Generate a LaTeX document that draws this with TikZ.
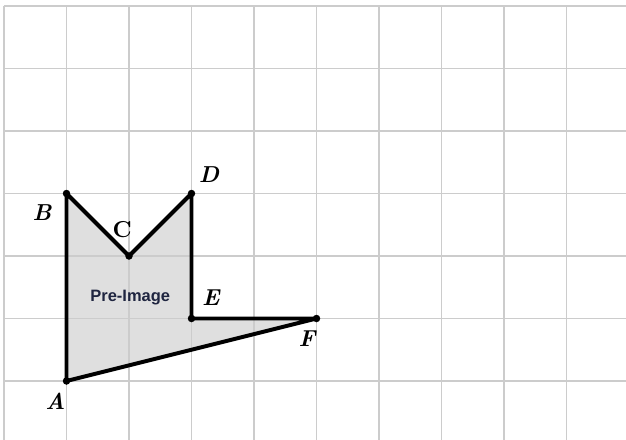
\documentclass[tikz,border=0pt]{standalone}
\usepackage{fontspec}
\setsansfont{Liberation Sans}
\usetikzlibrary{positioning}
\definecolor{labelnavy}{HTML}{1F2540}

\begin{document}
\begin{tikzpicture}[x=1cm, y=1cm]
    \tikzstyle{gridline} = [draw, gray!40, line width=0.9pt]
    \tikzstyle{figfill} = [fill=gray!25]
    \tikzstyle{figline} = [draw, black, line width=1.8pt, line join=round]
    \tikzstyle{vertex} = [fill=black]
    \tikzstyle{ptlabel} = [inner sep=0pt, font=\fontsize{10.5}{12}\selectfont\bfseries\itshape]

    \useasboundingbox (-0.064,0.072) rectangle (9.952,7.096);
    \clip (-0.064,0.072) rectangle (9.952,7.096);

    \coordinate (A) at (1,1);
    \coordinate (B) at (1,4);
    \coordinate (C) at (2,3);
    \coordinate (D) at (3,4);
    \coordinate (E) at (3,2);
    \coordinate (F) at (5,2);

    \path [figfill] (A) -- (B) -- (C) -- (D) -- (E) -- (F) -- cycle;
    \draw [gridline] (0,0) grid (10,7);
    \path [figline] (A) -- (B) -- (C) -- (D) -- (E) -- (F) -- cycle;
    \foreach \p in {A,B,C,D,E,F}
        \fill [vertex] (\p) circle (0.06);

    \node [ptlabel] (labA) at (0.82,0.68) {A};
    \node [ptlabel] (labB) at (0.61,3.69) {B};
    \node [ptlabel, font=\fontsize{10.5}{12}\selectfont\bfseries] (labC) at (1.89,3.43) {C};
    \node [ptlabel] (labD) at (3.28,4.31) {D};
    \node [ptlabel] (labE) at (3.31,2.34) {E};
    \node [ptlabel] (labF) at (4.85,1.67) {F};
    \node [inner sep=0pt, text=labelnavy, font=\sffamily\bfseries\fontsize{7.5}{9}\selectfont] (pre) at (2.02,2.34) {Pre-Image};
\end{tikzpicture}
\end{document}
